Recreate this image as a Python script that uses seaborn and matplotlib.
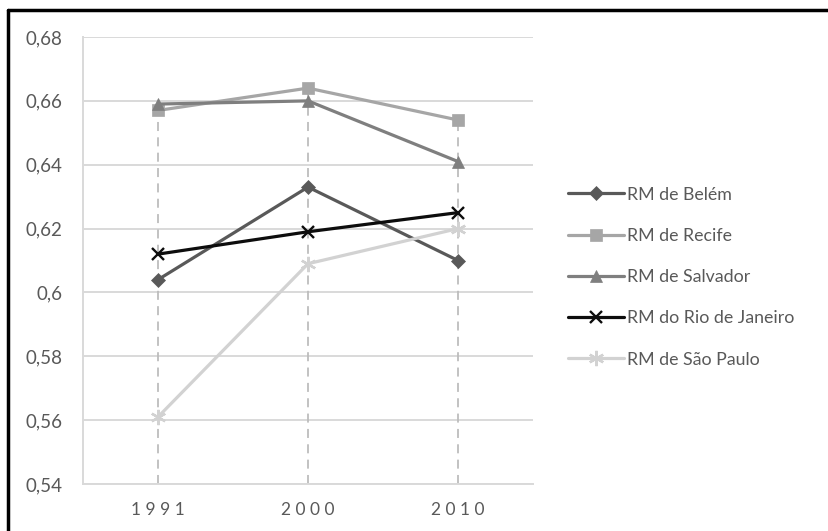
import matplotlib
matplotlib.use("Agg")
import matplotlib.pyplot as plt
from matplotlib.lines import Line2D
from matplotlib.ticker import FixedLocator, FuncFormatter
import seaborn as sns
import pandas as pd

# Index values by metropolitan region and census year
years = ["1991", "2000", "2010"]
regions = ["RM de Belém", "RM de Recife", "RM de Salvador",
           "RM do Rio de Janeiro", "RM de São Paulo"]
belem = [0.604, 0.633, 0.610]
recife = [0.657, 0.664, 0.654]
salvador = [0.659, 0.660, 0.641]
rio = [0.612, 0.619, 0.625]
sao_paulo = [0.561, 0.609, 0.620]
y_ticks = [0.54, 0.56, 0.58, 0.60, 0.62, 0.64, 0.66, 0.68]

series = [belem, recife, salvador, rio, sao_paulo]
df = pd.DataFrame({
    "ano": years * len(regions),
    "regiao": [r for r in regions for _ in years],
    "valor": [v for s in series for v in s],
})

sns.set_theme(style="white")
plt.rcParams["font.family"] = ["Lato", "DejaVu Sans"]

colors = ["#595959", "#a6a6a6", "#7f7f7f", "#0d0d0d", "#d2d2d2"]
markers = ["D", "s", "^", "x", (6, 2, 0)]
msizes = [7, 9, 9, 9, 11]

fig = plt.figure(figsize=(8.29, 5.31), dpi=100)
ax = fig.add_axes([0.1001, 0.0885, 0.5429, 0.8418])

# Drop lines from the highest value of each year down to the axis
tops = [max(s[i] for s in series) for i in range(len(years))]
ax.vlines(range(len(years)), y_ticks[0], tops, colors="#bdbdbd",
          linestyles=(0, (5, 3.5)), linewidth=1.3, zorder=1)

for reg, col, mk, ms in zip(regions, colors, markers, msizes):
    sub = df[df["regiao"] == reg]
    sns.lineplot(data=sub, x="ano", y="valor", ax=ax, color=col,
                 marker=mk, markersize=ms, linewidth=2.3, label=reg,
                 markeredgecolor=col,
                 markeredgewidth=1.7 if mk in ("x", (6, 2, 0)) else 0.5,
                 sort=False, zorder=3)

ax.set_xlim(-0.5, 2.5)
ax.set_ylim(0.54, 0.68)
ax.yaxis.set_major_locator(FixedLocator(y_ticks))
ax.yaxis.set_major_formatter(FuncFormatter(
    lambda v, p: f"{v:.2f}".rstrip("0").replace(".", ",")))
ax.set_xticks(range(len(years)))
ax.set_xticklabels([" ".join(y) for y in years])
ax.grid(axis="y", color="#d9d9d9", linewidth=1.4, zorder=0)
ax.set_axisbelow(True)
for side in ("top", "right"):
    ax.spines[side].set_visible(False)
for side in ("left", "bottom"):
    ax.spines[side].set_color("#d9d9d9")
    ax.spines[side].set_linewidth(1.4)
ax.tick_params(axis="y", length=0, pad=15, labelsize=13.5, labelcolor="#595959")
ax.tick_params(axis="x", length=0, pad=13, labelsize=12.5, labelcolor="#595959")
ax.set_xlabel("")
ax.set_ylabel("")

handles, labels = ax.get_legend_handles_labels()
ax.get_legend().remove()
fig.legend(handles, labels, loc="upper left", bbox_to_anchor=(0.676, 0.662),
           frameon=False, fontsize=12.8, handlelength=3.2, handletextpad=0.15,
           labelspacing=1.42, labelcolor="#595959", borderaxespad=0)

# Chart frame (left and top edges)
fig.add_artist(Line2D([8 / 829, 8 / 829], [0, 1 - 10 / 531],
                      transform=fig.transFigure, color="black", linewidth=2.5))
fig.add_artist(Line2D([8 / 829, 1], [1 - 10 / 531, 1 - 10 / 531],
                      transform=fig.transFigure, color="black", linewidth=2.5))

fig.savefig("out.png", dpi=100)
